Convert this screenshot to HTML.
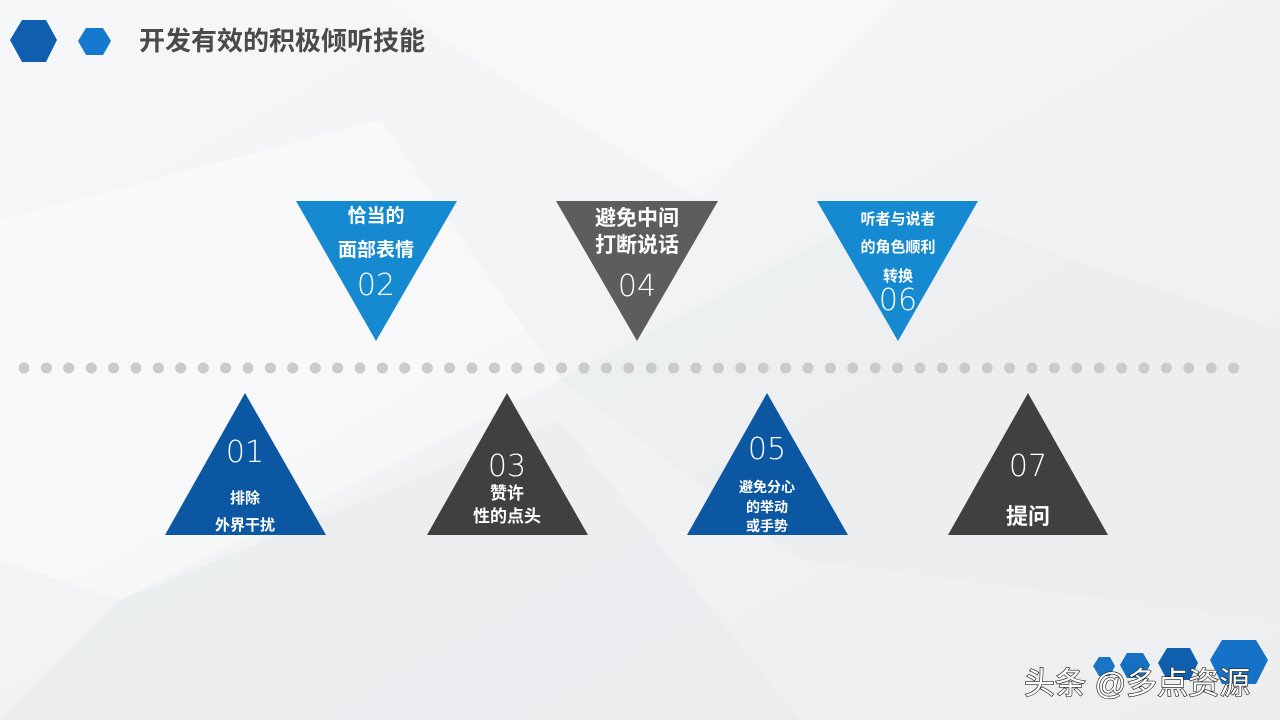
<!DOCTYPE html>
<html><head><meta charset="utf-8"><style>
html,body{margin:0;padding:0;width:1280px;height:720px;overflow:hidden;background:#f3f4f6}
svg{display:block}
text{font-family:"Liberation Sans","Noto Sans CJK SC",sans-serif}
.cn{font-weight:bold;fill:#fff;text-anchor:middle}
.num{fill:#fff;text-anchor:middle;font-size:30px;font-family:"DejaVu Sans","Liberation Sans",sans-serif;font-weight:200}
</style></head><body>
<svg width="1280" height="720" viewBox="0 0 1280 720">
<defs>
<linearGradient id="bg" x1="0" y1="0" x2="1" y2="1"><stop offset="0" stop-color="#f6f7f8"/><stop offset="1" stop-color="#eceef0"/></linearGradient>
</defs>
<rect width="1280" height="720" fill="url(#bg)"/>
<polygon points="0,220 380,120 560,380 120,600 0,560" fill="#ffffff" opacity="0.4"/>
<polygon points="560,380 900,200 1280,330 1280,620 800,560" fill="#e8eaec" opacity="0.4"/>
<polygon points="120,600 560,420 800,720 0,720" fill="#e6e8ea" opacity="0.4"/>
<polygon points="380,0 900,0 700,200" fill="#fafafb" opacity="0.6"/>
<!-- header hexagons -->
<polygon points="10,40 22,20 46,20 57,40 46,62 22,62" fill="#0f5fae"/>
<polygon points="78,41 86,28 103,28 111,41 103,55 86,55" fill="#1478cf"/>
<text x="139" y="50" font-size="26" font-weight="bold" fill="#4a4a4a">开发有效的积极倾听技能</text>
<g id="dots" fill="#cbcbcb"></g>
<!-- down triangles -->
<polygon points="296,201 457,201 376,341" fill="#168ad0"/>
<polygon points="556,201 718,201 637,341" fill="#5d5d5d"/>
<polygon points="817,201 978,201 898,341" fill="#168ad0"/>
<!-- up triangles -->
<polygon points="165,535 326,535 245,393" fill="#0b57a2"/>
<polygon points="427,535 588,535 507,393" fill="#404040"/>
<polygon points="687,535 848,535 767,393" fill="#0b57a2"/>
<polygon points="948,535 1108,535 1028,393" fill="#404040"/>
<!-- labels -->
<text class="cn" x="376" y="222" font-size="19">恰当的</text>
<text class="cn" x="376" y="256" font-size="19">面部表情</text>
<text class="num" x="376" y="295">02</text>
<text class="cn" x="637" y="225" font-size="21">避免中间</text>
<text class="cn" x="637" y="252" font-size="21">打断说话</text>
<text class="num" x="637" y="296">04</text>
<text class="cn" x="898" y="224" font-size="15">听者与说者</text>
<text class="cn" x="898" y="252" font-size="15">的角色顺利</text>
<text class="cn" x="898" y="281" font-size="15">转换</text>
<text class="num" x="898" y="310">06</text>
<text class="num" x="245" y="462">01</text>
<text class="cn" x="245" y="503" font-size="15">排除</text>
<text class="cn" x="245" y="530" font-size="15">外界干扰</text>
<text class="num" x="507" y="476">03</text>
<text class="cn" x="507" y="499" font-size="17">赞许</text>
<text class="cn" x="507" y="522" font-size="17">性的点头</text>
<text class="num" x="767" y="459">05</text>
<text class="cn" x="767" y="492" font-size="14">避免分心</text>
<text class="cn" x="767" y="512" font-size="14">的举动</text>
<text class="cn" x="767" y="531" font-size="14">或手势</text>
<text class="num" x="1028" y="476">07</text>
<text class="cn" x="1028" y="524" font-size="22">提问</text>
<!-- bottom-right hexagons -->
<polygon points="1093,666 1099,657 1110,657 1115,666 1110,676 1099,676" fill="#1a73c4"/>
<polygon points="1120,665 1127,653 1143,653 1150,665 1143,678 1127,678" fill="#1670c2"/>
<polygon points="1158,663 1167,648 1190,648 1198,663 1190,680 1167,680" fill="#0f5fae"/>
<polygon points="1210,660 1222,640 1256,640 1268,660 1256,684 1222,684" fill="#1572c6"/>
<text x="1024" y="694" font-size="31" fill="#fff" stroke="#222" stroke-width="1.3" style="paint-order:stroke">头条 @多点资源</text>
</svg>
<script>
var g=document.getElementById('dots'),s='';
for(var k=0;k<55;k++){s+='<circle cx="'+(24+22.4*k)+'" cy="368" r="5.5"/>';}
g.innerHTML=s;
</script>
</body></html>
